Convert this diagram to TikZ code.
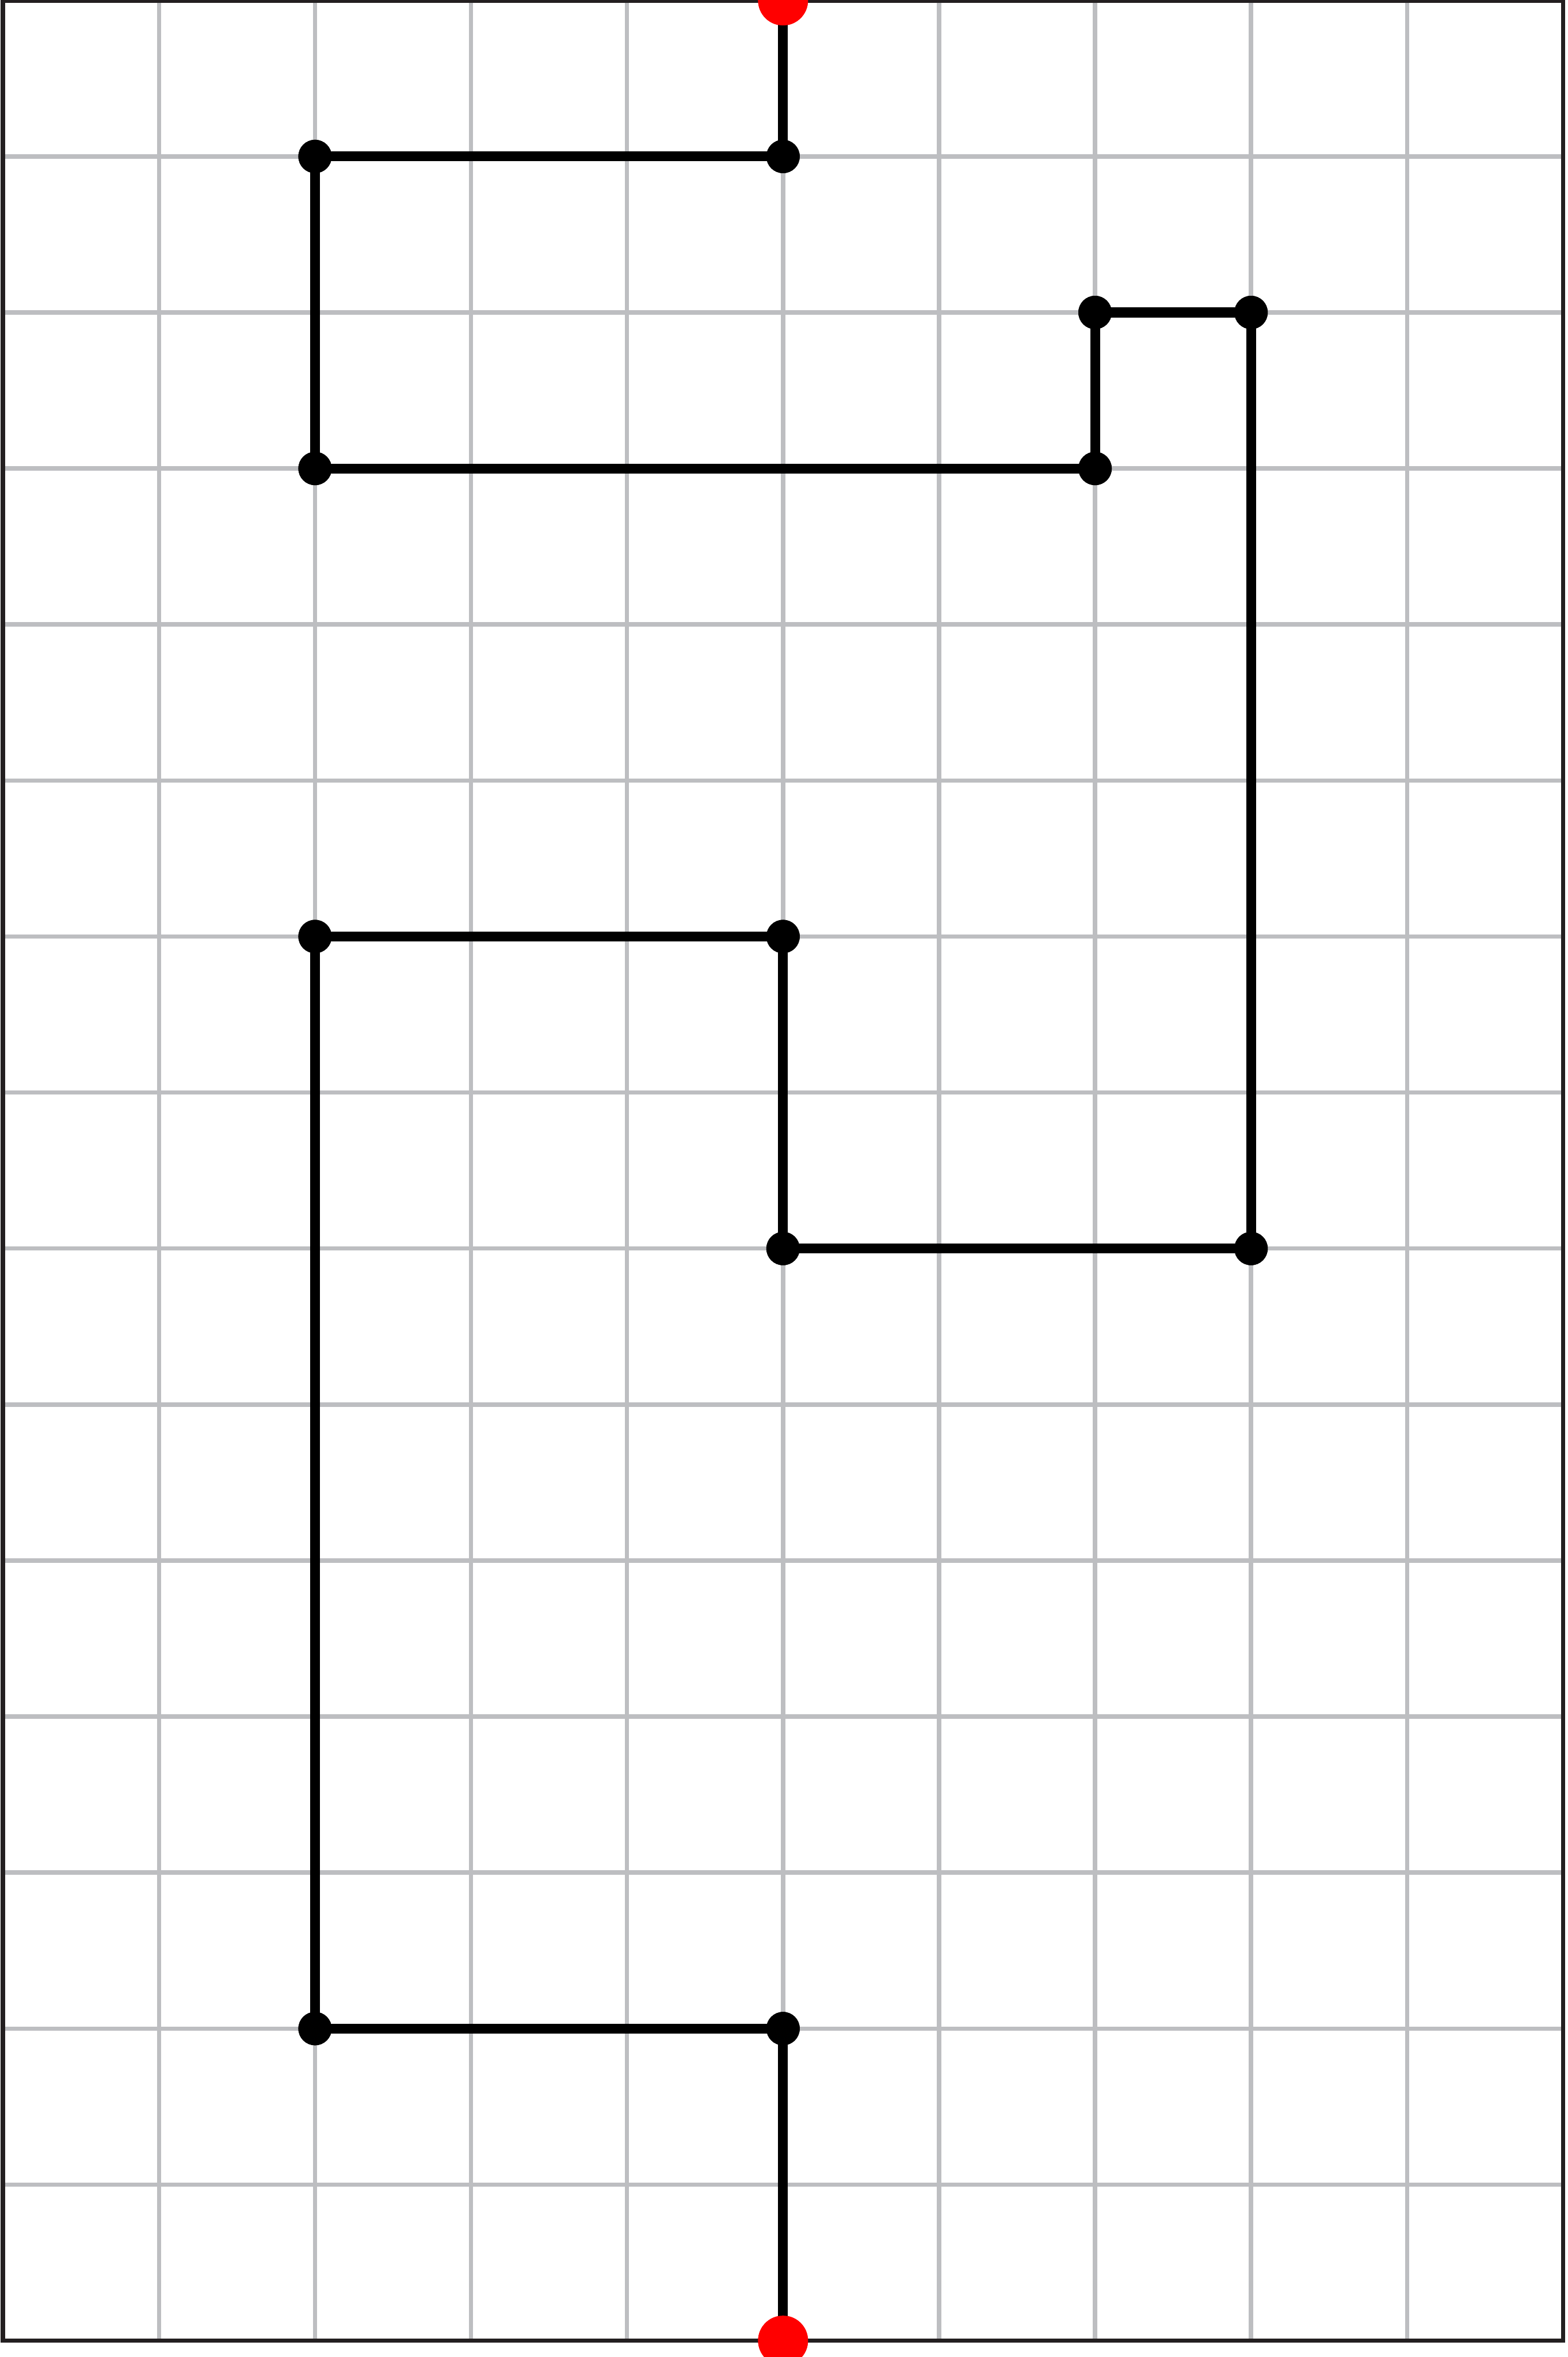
\documentclass[tikz,border=0pt]{standalone}
\definecolor{gridgrey}{RGB}{189,190,193}
\definecolor{framegrey}{RGB}{35,31,32}
\tikzset{
  gridline/.style={draw=gridgrey, line width=0.79pt},
  frameline/.style={draw=framegrey, line width=0.79pt},
  pathline/.style={draw=black, line width=1.8pt},
  dot/.style={circle, fill=black, inner sep=0pt, minimum size=0.214cm},
  enddot/.style={circle, fill=red, inner sep=0pt, minimum size=0.32cm}
}
\begin{document}
\begin{tikzpicture}
\useasboundingbox (-0.0194,-0.105) rectangle (10.03,15.003);
\fill[white] (-0.0194,-0.105) rectangle (10.03,15.003);
% grid
\foreach \x in {1,...,9} \draw[gridline] (\x,0) -- (\x,15);
\foreach \y in {1,...,14} \draw[gridline] (0,\y) -- (10,\y);
\draw[frameline] (0,0) rectangle (10,15);
% vertices
\node[enddot] (s) at (5,15) {};
\node[dot] (a) at (5,14) {};
\node[dot] (b) at (2,14) {};
\node[dot] (c) at (2,12) {};
\node[dot] (d) at (7,12) {};
\node[dot] (e) at (7,13) {};
\node[dot] (f) at (8,13) {};
\node[dot] (g) at (8,7) {};
\node[dot] (h) at (5,7) {};
\node[dot] (i) at (5,9) {};
\node[dot] (j) at (2,9) {};
\node[dot] (k) at (2,2) {};
\node[dot] (l) at (5,2) {};
\node[enddot] (t) at (5,0) {};
% path
\draw[pathline] (s.center) -- (a.center) -- (b.center) -- (c.center) -- (d.center) -- (e.center) -- (f.center) -- (g.center) -- (h.center) -- (i.center) -- (j.center) -- (k.center) -- (l.center) -- (t.center);
% redraw dots on top
\foreach \n in {a,b,c,d,e,f,g,h,i,j,k,l} \fill[black] (\n) circle (0.107);
\foreach \n in {s,t} \fill[red] (\n) circle (0.16);
\end{tikzpicture}
\end{document}
